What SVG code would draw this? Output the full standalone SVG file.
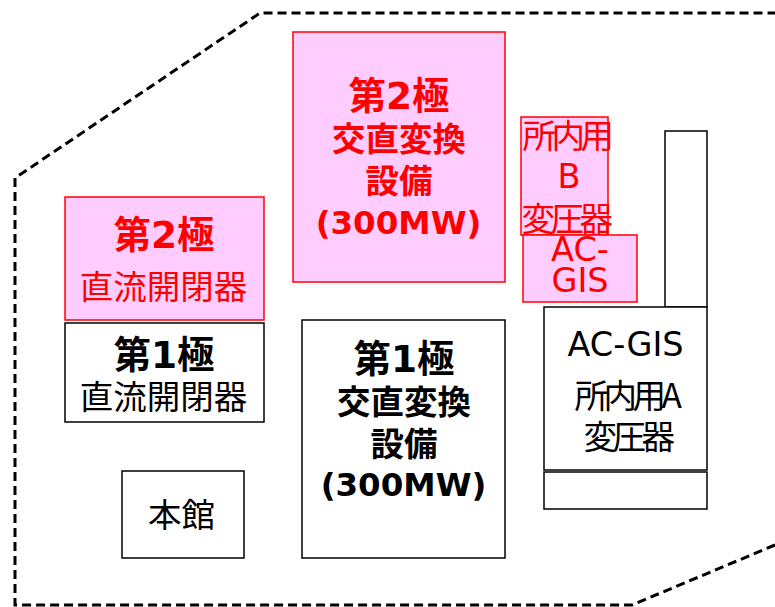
<svg xmlns="http://www.w3.org/2000/svg" width="775" height="607" viewBox="0 0 775 607">
<style>
text{font-family:"DejaVu Sans","Noto Sans CJK JP",sans-serif;text-anchor:middle;fill:#000;font-size:33.5px}
.j{font-family:"Noto Sans CJK JP",sans-serif}
.r text{fill:#f00}
.b{font-weight:700}
.h{font-size:37.5px;font-weight:700}
.m{font-size:32.5px;font-weight:700}
.n{letter-spacing:-4.5px}
.k{fill:#fff;stroke:#000;stroke-width:1.5}
.p{fill:#ffccff;stroke:#f00;stroke-width:1.5}
</style>
<g id="boundary"><path d="M775 545L632 605H15V178L260 13H775" fill="none" stroke="#000" stroke-width="3" stroke-dasharray="9 5"/></g>
<g id="pole2-conv" class="r"><rect class="p" x="293" y="32" width="212" height="250"/>
<text class="h" x="399" y="109">第2極</text><text class="j b" x="399" y="151">交直変換</text><text class="j b" x="399" y="193">設備</text><text class="m" x="398.500" y="234">(300MW)</text></g>
<g id="pole2-dc" class="r"><rect class="p" x="65" y="197" width="199" height="123"/>
<text class="h" x="164" y="248">第2極</text><text class="j" x="163.500" y="299">直流開閉器</text></g>
<g id="pole1-dc"><rect class="k" x="65" y="323" width="199" height="99"/>
<text class="h" x="164" y="368">第1極</text><text class="j" x="163.500" y="409">直流開閉器</text></g>
<g id="pole1-conv"><rect class="k" x="302" y="320" width="203" height="238"/>
<text class="h" x="404" y="372">第1極</text><text class="j b" x="404" y="414">交直変換</text><text class="j b" x="404" y="456">設備</text><text class="m" x="403.500" y="496">(300MW)</text></g>
<g id="honkan"><rect class="k" x="122" y="471" width="122" height="87"/><text class="j" x="181.500" y="527">本館</text></g>
<g id="tr-b" class="r"><rect class="p" x="521" y="117" width="87" height="118"/>
<text class="j n" x="566" y="148">所内用</text><text x="569" y="188">B</text><text class="j n" x="565" y="231">変圧器</text></g>
<g id="ac-gis-r" class="r"><rect class="p" x="523" y="235" width="114" height="67"/>
<text x="580" y="261">AC-</text><text x="580" y="292">GIS</text></g>
<g id="tall"><rect class="k" x="665" y="131" width="42" height="176"/></g>
<g id="ac-gis-a"><rect class="k" x="544" y="307" width="163" height="163"/>
<text x="625.500" y="356">AC-GIS</text><text class="j n" x="626" y="408">所内用A</text><text class="j n" x="627" y="449">変圧器</text></g>
<g id="base"><rect class="k" x="544" y="472" width="163" height="37"/></g>
</svg>
